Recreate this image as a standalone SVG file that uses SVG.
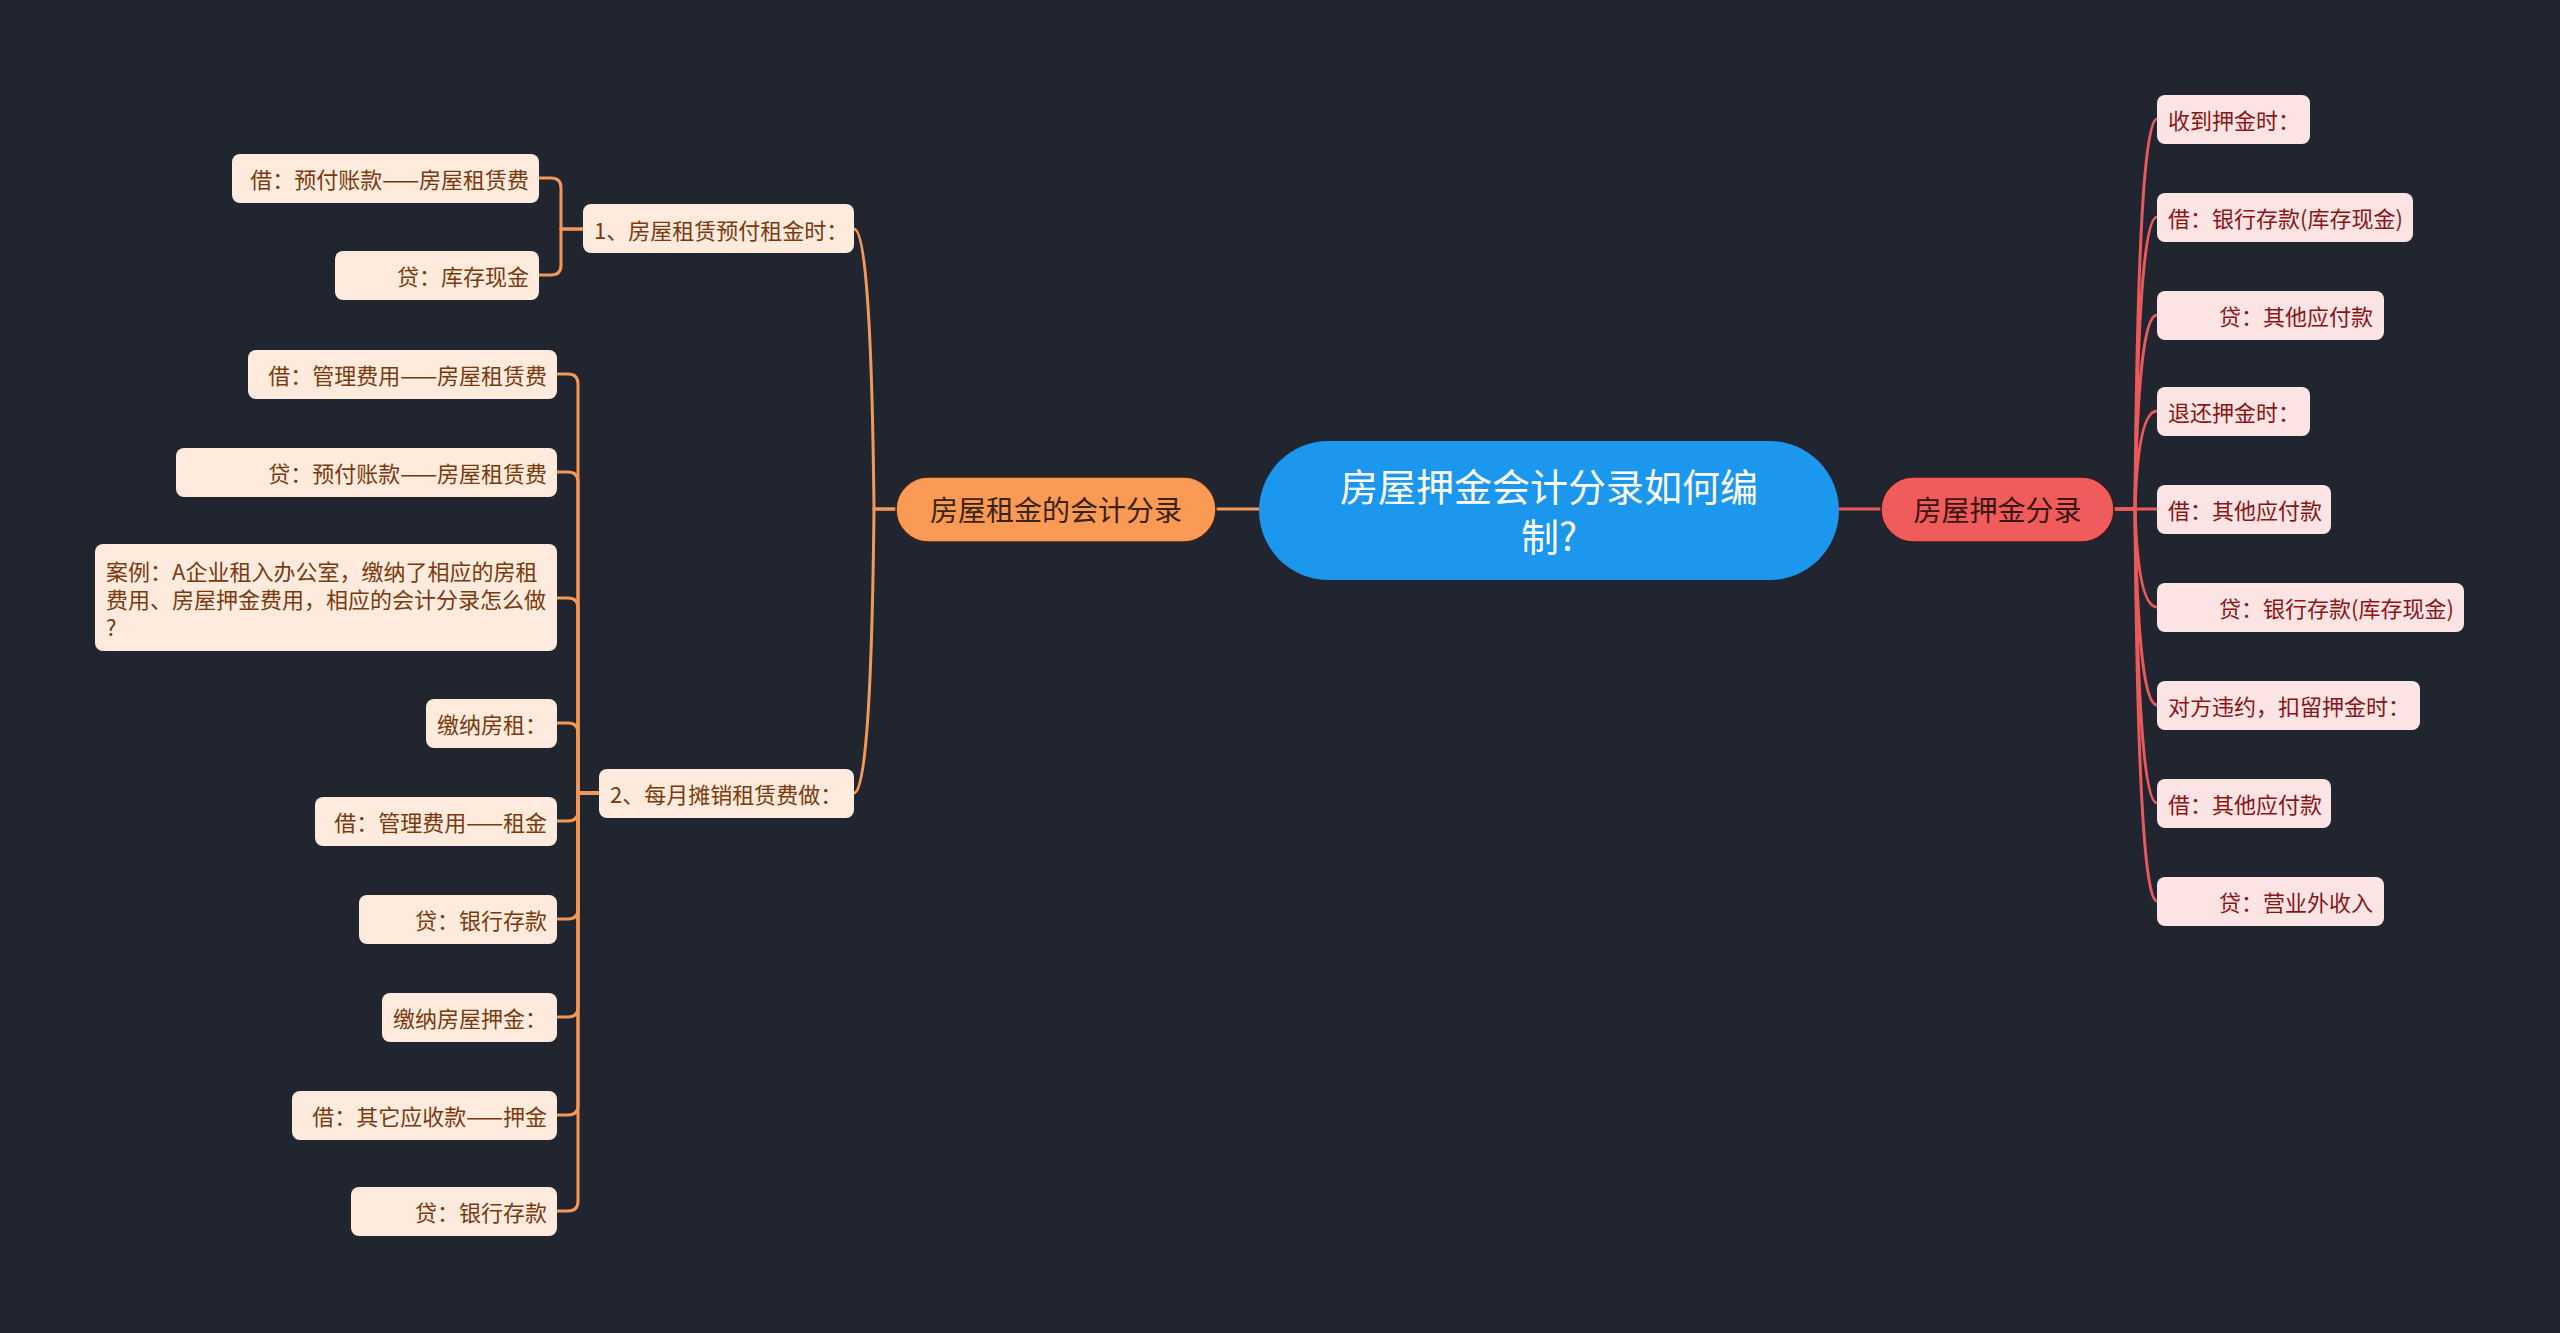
<svg xmlns="http://www.w3.org/2000/svg" width="2560" height="1333" viewBox="0 0 2560 1333">
<style>
text{font-family:"Noto Sans CJK SC","Noto Sans",sans-serif;dominant-baseline:central}
.root{fill:#1C97EE}
.roott{fill:#ffffff;font-size:38px;text-anchor:middle}
.lm{fill:#FA9A55;stroke:#3a2616;stroke-width:1.5}
.lmt{fill:#3B2414;font-size:28px;text-anchor:middle}
.rm{fill:#F05B5B;stroke:#3a1a1a;stroke-width:1.5}
.rmt{fill:#3A1515;font-size:28px;text-anchor:middle}
.ll{fill:#FEEBDD}
.llt{fill:#7B3A0E;font-size:22px;text-anchor:end}
.llc{fill:#7B3A0E;font-size:22px}
.rl{fill:#FDE4E4}
.rlt{fill:#8A1515;font-size:22px}
.co{fill:none;stroke:#F2995A;stroke-width:3}
.cr{fill:none;stroke:#E95A5C;stroke-width:3}
</style>
<rect width="2560" height="1333" fill="#21252F"/>
<g id="connectors">
<path class="co" d="M1259 509 H1216" stroke-width="4"/>
<path class="cr" d="M1839 509 H1881" stroke-width="4"/>
<path class="co" d="M896 509 H874 Q871 229 854 229"/>
<path class="co" d="M896 509 H874 Q871 793 854 793"/>
<path class="co" d="M583 229 H561 V188 Q561 178 551 178 H539"/>
<path class="co" d="M583 229 H561 V265 Q561 275 551 275 H539"/>
<path class="co" d="M599 793 H578 V384 Q578 374 568 374 H557"/>
<path class="co" d="M599 793 H578 V482 Q578 472 568 472 H557"/>
<path class="co" d="M599 793 H578 V608 Q578 598 568 598 H557"/>
<path class="co" d="M599 793 H578 V733 Q578 723 568 723 H557"/>
<path class="co" d="M599 793 H578 V811 Q578 821 568 821 H557"/>
<path class="co" d="M599 793 H578 V909 Q578 919 568 919 H557"/>
<path class="co" d="M599 793 H578 V1007 Q578 1017 568 1017 H557"/>
<path class="co" d="M599 793 H578 V1105 Q578 1115 568 1115 H557"/>
<path class="co" d="M599 793 H578 V1201 Q578 1211 568 1211 H557"/>
<path class="cr" d="M2114 509 H2135 Q2138 119 2157 119"/>
<path class="cr" d="M2114 509 H2135 Q2138 217 2157 217"/>
<path class="cr" d="M2114 509 H2135 Q2138 315 2157 315"/>
<path class="cr" d="M2114 509 H2135 Q2138 411 2157 411"/>
<path class="cr" d="M2114 509 H2157"/>
<path class="cr" d="M2114 509 H2135 Q2138 607 2157 607"/>
<path class="cr" d="M2114 509 H2135 Q2138 705 2157 705"/>
<path class="cr" d="M2114 509 H2135 Q2138 803 2157 803"/>
<path class="cr" d="M2114 509 H2135 Q2138 901 2157 901"/>
</g>
<g id="root"><rect class="root" x="1259" y="441" width="580" height="139" rx="69.5"/><text class="roott" x="1549" y="484">房屋押金会计分录如何编</text><text class="roott" x="1549" y="534">制?</text></g>
<g id="left-main"><rect class="lm" x="896" y="477" width="320" height="65" rx="32.5"/><text class="lmt" x="1056" y="509">房屋租金的会计分录</text></g>
<g id="right-main"><rect class="rm" x="1881" y="477" width="233" height="65" rx="32.5"/><text class="rmt" x="1997.5" y="509">房屋押金分录</text></g>
<g id="sub1"><rect class="ll" x="583" y="204" width="271" height="49" rx="8"/><text class="llc" x="594" y="229">1、房屋租赁预付租金时：</text></g>
<g id="sub2"><rect class="ll" x="599" y="769" width="255" height="49" rx="8"/><text class="llc" x="610" y="793">2、每月摊销租赁费做：</text></g>
<g id="l1"><rect class="ll" x="232" y="154" width="307" height="49" rx="8"/><text class="llt" x="529" y="178">借：预付账款——房屋租赁费</text></g>
<g id="l2"><rect class="ll" x="335" y="251" width="204" height="49" rx="8"/><text class="llt" x="529" y="275">贷：库存现金</text></g>
<g id="l3"><rect class="ll" x="248" y="350" width="309" height="49" rx="8"/><text class="llt" x="547" y="374">借：管理费用——房屋租赁费</text></g>
<g id="l4"><rect class="ll" x="176" y="448" width="381" height="49" rx="8"/><text class="llt" x="547" y="472">贷：预付账款——房屋租赁费</text></g>
<g id="l5"><rect class="ll" x="95" y="544" width="462" height="107" rx="8"/><text class="llc" x="106" y="570">案例：A企业租入办公室，缴纳了相应的房租</text><text class="llc" x="106" y="598">费用、房屋押金费用，相应的会计分录怎么做</text><text class="llc" x="106" y="626">?</text></g>
<g id="l6"><rect class="ll" x="426" y="699" width="131" height="49" rx="8"/><text class="llt" x="547" y="723">缴纳房租：</text></g>
<g id="l7"><rect class="ll" x="315" y="797" width="242" height="49" rx="8"/><text class="llt" x="547" y="821">借：管理费用——租金</text></g>
<g id="l8"><rect class="ll" x="359" y="895" width="198" height="49" rx="8"/><text class="llt" x="547" y="919">贷：银行存款</text></g>
<g id="l9"><rect class="ll" x="382" y="993" width="175" height="49" rx="8"/><text class="llt" x="547" y="1017">缴纳房屋押金：</text></g>
<g id="l10"><rect class="ll" x="292" y="1091" width="265" height="49" rx="8"/><text class="llt" x="547" y="1115">借：其它应收款——押金</text></g>
<g id="l11"><rect class="ll" x="351" y="1187" width="206" height="49" rx="8"/><text class="llt" x="547" y="1211">贷：银行存款</text></g>
<g id="r1"><rect class="rl" x="2157" y="95" width="153" height="49" rx="8"/><text class="rlt" x="2168" y="119">收到押金时：</text></g>
<g id="r2"><rect class="rl" x="2157" y="193" width="256" height="49" rx="8"/><text class="rlt" x="2168" y="217">借：银行存款(库存现金)</text></g>
<g id="r3"><rect class="rl" x="2157" y="291" width="227" height="49" rx="8"/><text class="rlt" x="2219" y="315">贷：其他应付款</text></g>
<g id="r4"><rect class="rl" x="2157" y="387" width="153" height="49" rx="8"/><text class="rlt" x="2168" y="411">退还押金时：</text></g>
<g id="r5"><rect class="rl" x="2157" y="485" width="174" height="49" rx="8"/><text class="rlt" x="2168" y="509">借：其他应付款</text></g>
<g id="r6"><rect class="rl" x="2157" y="583" width="307" height="49" rx="8"/><text class="rlt" x="2219" y="607">贷：银行存款(库存现金)</text></g>
<g id="r7"><rect class="rl" x="2157" y="681" width="263" height="49" rx="8"/><text class="rlt" x="2168" y="705">对方违约，扣留押金时：</text></g>
<g id="r8"><rect class="rl" x="2157" y="779" width="174" height="49" rx="8"/><text class="rlt" x="2168" y="803">借：其他应付款</text></g>
<g id="r9"><rect class="rl" x="2157" y="877" width="227" height="49" rx="8"/><text class="rlt" x="2219" y="901">贷：营业外收入</text></g>
</svg>
